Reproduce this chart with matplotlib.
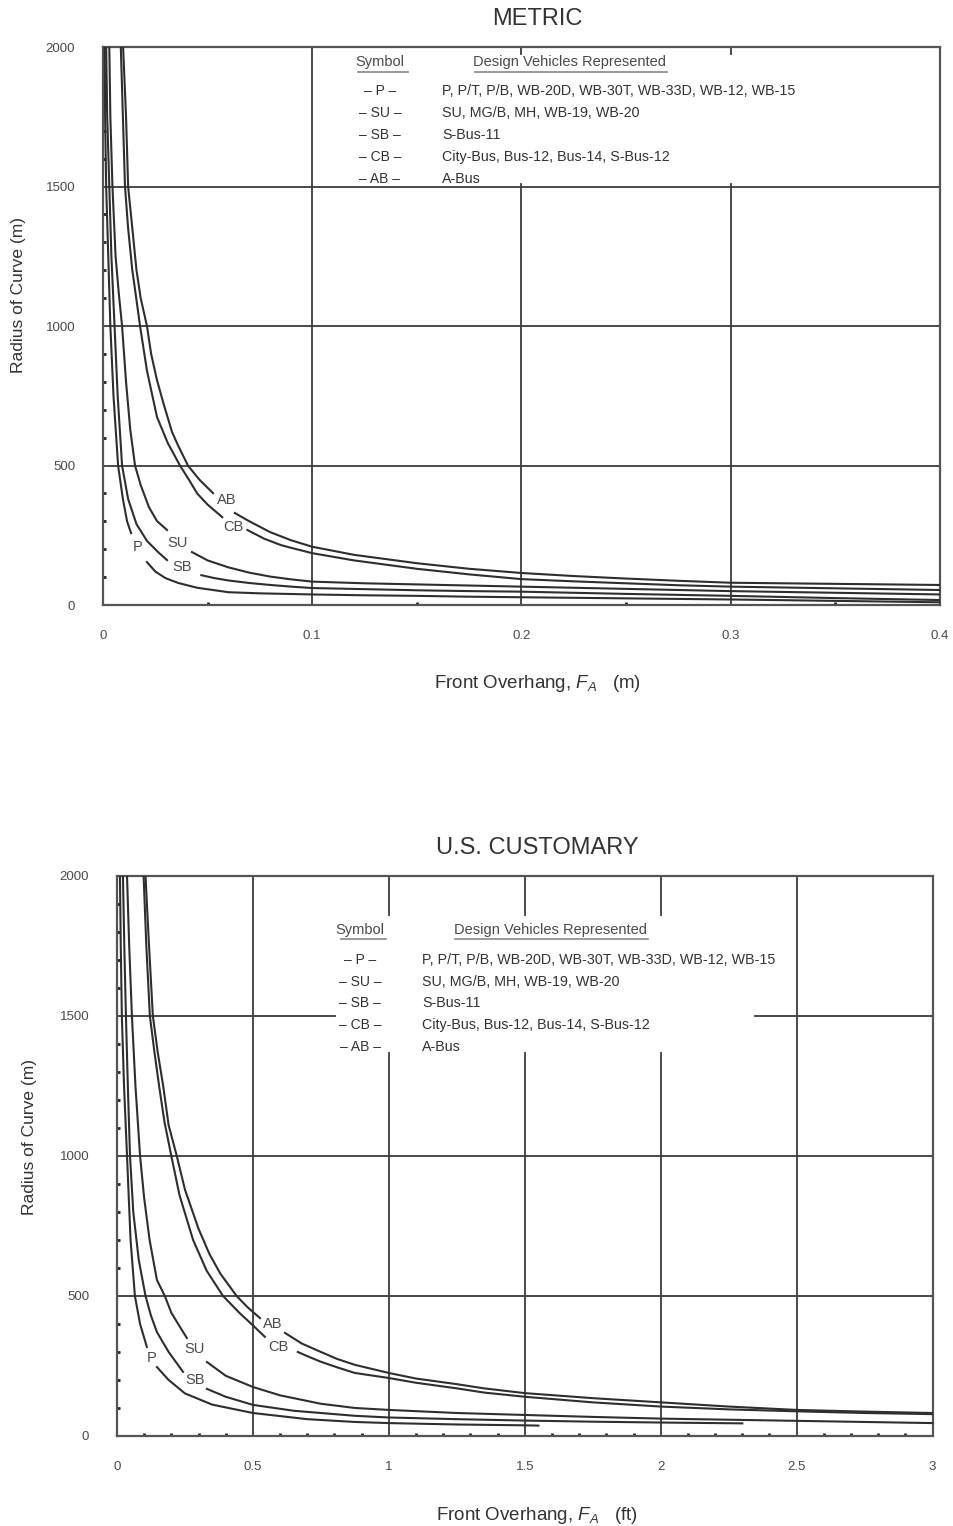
import numpy as np
import matplotlib
matplotlib.use("Agg")
import matplotlib.pyplot as plt
from matplotlib.lines import Line2D

plt.rcParams["font.family"] = ["Liberation Sans", "DejaVu Sans"]
plt.rcParams["mathtext.fontset"] = "custom"
plt.rcParams["mathtext.rm"] = "Liberation Sans"
plt.rcParams["mathtext.it"] = "Liberation Sans:italic"

nan = np.nan

# metric panel: front overhang (m) vs radius of curve (m); nan = gap for label
p_m_f = [0.0008, 0.001, 0.0015, 0.0025, 0.0035, 0.005, 0.0072, 0.0095, 0.0115, 0.0134, nan,
         0.021, 0.025, 0.03, 0.036, 0.045, 0.06, 0.075, 0.1, 0.125, 0.15, 0.175, 0.2, 0.25, 0.3, 0.35, 0.4]
p_m_r = [2000, 1750, 1500, 1250, 1000, 750, 500, 380, 300, 258, nan,
         154, 120, 96, 79, 62, 46, 42, 38, 35, 33, 30, 28, 24, 20, 15, 10]
sb_m_f = [0.0015, 0.002, 0.003, 0.004, 0.0055, 0.007, 0.0091, 0.012, 0.016, 0.021, 0.0263, 0.0306, nan,
          0.047, 0.053, 0.06, 0.07, 0.08, 0.09, 0.1, 0.125, 0.15, 0.175, 0.2, 0.25, 0.3, 0.35, 0.4]
sb_m_r = [2000, 1750, 1500, 1250, 1000, 750, 500, 380, 290, 230, 190, 161, nan,
          107, 97, 88, 79, 72, 66, 61, 57, 53, 50, 48, 40, 33, 25, 18]
su_m_f = [0.003, 0.0035, 0.0045, 0.006, 0.0075, 0.0091, 0.011, 0.013, 0.0153, 0.018, 0.022, 0.0258, 0.0306, nan,
          0.0425, 0.05, 0.06, 0.07, 0.08, 0.09, 0.1, 0.125, 0.15, 0.175, 0.2, 0.25, 0.3, 0.35, 0.4]
su_m_r = [2000, 1750, 1500, 1250, 1120, 1000, 800, 630, 500, 430, 350, 301, 269, nan,
          190, 160, 135, 116, 102, 92, 84, 78, 74, 70, 66, 58, 50, 44, 38]
cb_m_f = [0.0085, 0.0095, 0.0105, 0.012, 0.014, 0.0155, 0.0177, 0.021, 0.0258, 0.031, 0.0368, 0.041, 0.045,
          0.05, 0.057, nan, 0.069, 0.077, 0.085, 0.09, 0.1, 0.12, 0.15, 0.175, 0.2, 0.225, 0.25, 0.275,
          0.3, 0.35, 0.4]
cb_m_r = [2000, 1750, 1500, 1350, 1200, 1120, 1000, 840, 674, 580, 500, 450, 400,
          360, 315, nan, 269, 238, 215, 205, 186, 160, 130, 110, 93, 85, 78, 71,
          66, 60, 54]
ab_m_f = [0.0096, 0.011, 0.012, 0.014, 0.016, 0.018, 0.021, 0.023, 0.0258, 0.029, 0.033, 0.036, 0.0406,
          0.046, 0.0526, nan, 0.063, 0.07, 0.08, 0.09, 0.1, 0.12, 0.15, 0.175, 0.2, 0.225, 0.25, 0.275,
          0.3, 0.35, 0.4]
ab_m_r = [2000, 1750, 1500, 1350, 1200, 1100, 1000, 900, 806, 720, 620, 570, 500,
          450, 401, nan, 330, 300, 261, 232, 209, 180, 150, 130, 115, 104, 95, 87,
          80, 76, 72]

# U.S. customary panel: front overhang (ft)
p_us_f = [0.011, 0.014, 0.018, 0.026, 0.037, 0.05, 0.066, 0.085, 0.110, nan,
          0.147, 0.19, 0.25, 0.35, 0.5, 0.7, 0.875, 1.0, 1.25, 1.5, 1.55]
p_us_r = [2000, 1750, 1500, 1250, 1000, 700, 500, 400, 318, nan,
          246, 200, 152, 112, 82, 60, 50, 46, 41, 38, 37]
sb_us_f = [0.022, 0.027, 0.033, 0.04, 0.048, 0.06, 0.08, 0.105, 0.125, 0.147, 0.19, 0.243, nan,
           0.331, 0.4, 0.5, 0.65, 0.875, 1.0, 1.25, 1.5, 1.75, 2.0, 2.3]
sb_us_r = [2000, 1750, 1500, 1250, 1000, 800, 630, 500, 430, 371, 300, 229, nan,
           168, 140, 111, 90, 72, 66, 60, 55, 51, 48, 45]
su_us_f = [0.037, 0.045, 0.055, 0.068, 0.085, 0.1, 0.12, 0.147, 0.176, 0.2, 0.225, 0.257, nan,
           0.331, 0.4, 0.5, 0.6, 0.75, 0.875, 1.0, 1.25, 1.5, 1.75, 2.0, 2.25, 2.5, 2.75, 3.0]
su_us_r = [2000, 1750, 1500, 1250, 1000, 850, 700, 557, 500, 440, 400, 350, nan,
           264, 215, 175, 145, 115, 100, 93, 82, 75, 68, 62, 58, 54, 50, 46]
cb_us_f = [0.098, 0.108, 0.121, 0.138, 0.155, 0.175, 0.20, 0.23, 0.28, 0.33, 0.39, 0.45, 0.50, 0.544, nan,
           0.665, 0.7, 0.75, 0.81, 0.875, 1.0, 1.1, 1.25, 1.35, 1.5, 1.75, 2.0, 2.25, 2.5, 2.75, 3.0]
cb_us_r = [2000, 1750, 1500, 1370, 1250, 1120, 1000, 860, 700, 590, 500, 440, 395, 354, nan,
           300, 285, 265, 245, 225, 207, 190, 170, 155, 140, 120, 105, 95, 88, 82, 78]
ab_us_f = [0.105, 0.118, 0.132, 0.15, 0.17, 0.19, 0.22, 0.25, 0.30, 0.34, 0.38, 0.41, 0.44, 0.48, 0.526, nan,
           0.618, 0.68, 0.75, 0.81, 0.875, 1.0, 1.1, 1.25, 1.35, 1.5, 1.75, 2.0, 2.25, 2.5, 2.75, 3.0]
ab_us_r = [2000, 1750, 1500, 1370, 1250, 1110, 1000, 880, 740, 650, 580, 540, 500, 460, 421, nan,
           368, 330, 300, 275, 254, 225, 205, 185, 170, 153, 135, 120, 105, 93, 87, 82]

symbols = ["P", "SU", "SB", "CB", "AB"]
vehicles = [
    "P, P/T, P/B, WB-20D, WB-30T, WB-33D, WB-12, WB-15",
    "SU, MG/B, MH, WB-19, WB-20",
    "S-Bus-11",
    "City-Bus, Bus-12, Bus-14, S-Bus-12",
    "A-Bus",
]

TXT = "#4a4a4a"
LINE = "#2e2e2e"
GRID = "#3c3c3c"

fig = plt.figure(figsize=(9.54, 15.26), dpi=100)


def draw_panel(ax, curves, labels, xmax, xmajor, xminor, xticklabels, box, title, xlabel, pos):
    ax.set_xlim(0, xmax)
    ax.set_ylim(0, 2000)
    ax.set_xticks(xmajor)
    ax.set_xticklabels(xticklabels)
    ax.set_xticks(xminor, minor=True)
    ax.set_yticks([0, 500, 1000, 1500, 2000])
    ax.set_yticks(np.arange(0, 2001, 100), minor=True)
    ax.tick_params(which="major", direction="in", length=0, labelsize=9.5, labelcolor=TXT, pad=20)
    ax.tick_params(axis="x", which="major", pad=18)
    ax.tick_params(which="minor", direction="in", length=2, width=2, color="#222")
    for s in ax.spines.values():
        s.set_color("#555")
        s.set_linewidth(1.6)

    # grid lines, cut out behind the symbol table
    bx0, bx1, by0, by1 = box
    for x in xmajor[1:-1]:
        xf = x / xmax
        if bx0 < xf < bx1:
            ax.axvline(x, ymax=by0, color=GRID, lw=1.3, zorder=1)
            ax.axvline(x, ymin=by1, color=GRID, lw=1.3, zorder=1)
        else:
            ax.axvline(x, color=GRID, lw=1.3, zorder=1)
    for y in [500, 1000, 1500]:
        yf = y / 2000
        if by0 < yf < by1:
            ax.axhline(y, xmax=bx0, color=GRID, lw=1.3, zorder=1)
            ax.axhline(y, xmin=bx1, color=GRID, lw=1.3, zorder=1)
        else:
            ax.axhline(y, color=GRID, lw=1.3, zorder=1)

    for f, r in curves:
        ax.plot(f, r, color=LINE, lw=1.5, zorder=3)
    for name, (lx, ly) in labels.items():
        ax.text(lx, ly, name, fontsize=10.5, color=TXT, ha="center", va="center", zorder=4)

    # symbol table
    sx, tx, hy, rows, ul_sym, ul_veh, vcx = pos
    ax.text(sx, hy, "Symbol", transform=ax.transAxes, fontsize=10.5, color=TXT, ha="center", va="center")
    ax.text(vcx, hy, "Design Vehicles Represented", transform=ax.transAxes, fontsize=10.5, color=TXT,
            ha="center", va="center")
    uly = hy - 0.017
    ax.add_line(Line2D(ul_sym, [uly, uly], transform=ax.transAxes, color="#888", lw=1.2))
    ax.add_line(Line2D(ul_veh, [uly, uly], transform=ax.transAxes, color="#888", lw=1.2))
    for sym, veh, ry in zip(symbols, vehicles, rows):
        ax.text(sx, ry, "\u2013 " + sym + " \u2013", transform=ax.transAxes, fontsize=10, color="#333",
                ha="center", va="center")
        ax.text(tx, ry, veh, transform=ax.transAxes, fontsize=10.3, color="#333", ha="left", va="center")

    ax.set_title(title, fontsize=17, color="#333", pad=16)
    ax.set_xlabel(xlabel, fontsize=13.5, color="#333")
    ax.set_ylabel("Radius of Curve (m)", fontsize=12.5, color="#333")


ax1 = fig.add_axes([0.108, 0.6035, 0.877, 0.3657])
draw_panel(
    ax1,
    [(p_m_f, p_m_r), (sb_m_f, sb_m_r), (su_m_f, su_m_r), (cb_m_f, cb_m_r), (ab_m_f, ab_m_r)],
    {"AB": (0.0593, 376), "CB": (0.0621, 280), "SU": (0.0354, 222), "P": (0.0167, 208), "SB": (0.0377, 136)},
    0.4, [0, 0.1, 0.2, 0.3, 0.4], np.arange(0, 0.401, 0.05), ["0", "0.1", "0.2", "0.3", "0.4"],
    (0.289, 0.85, 0.755, 0.988),
    "METRIC", r"Front Overhang, $F_A$   (m)",
    (0.331, 0.405, 0.973, [0.921, 0.882, 0.842, 0.803, 0.763], [0.305, 0.364], [0.444, 0.674], 0.558),
)
ax1.title.set_x(0.519)
ax1.xaxis.set_label_coords(0.519, -0.122)
ax1.yaxis.set_label_coords(-0.092, 0.556)

ax2 = fig.add_axes([0.1226, 0.059, 0.855, 0.367])
draw_panel(
    ax2,
    [(p_us_f, p_us_r), (sb_us_f, sb_us_r), (su_us_f, su_us_r), (cb_us_f, cb_us_r), (ab_us_f, ab_us_r)],
    {"AB": (0.574, 400), "CB": (0.592, 318), "SU": (0.287, 311), "P": (0.129, 279), "SB": (0.287, 200)},
    3, [0, 0.5, 1, 1.5, 2, 2.5, 3], np.arange(0, 3.001, 0.1), ["0", "0.5", "1", "1.5", "2", "2.5", "3"],
    (0.267, 0.782, 0.684, 0.93),
    "U.S. CUSTOMARY", r"Front Overhang, $F_A$   (ft)",
    (0.298, 0.374, 0.904, [0.85, 0.811, 0.773, 0.734, 0.695], [0.275, 0.330], [0.414, 0.651], 0.531),
)
ax2.title.set_x(0.515)
ax2.xaxis.set_label_coords(0.515, -0.124)
ax2.yaxis.set_label_coords(-0.098, 0.534)

fig.savefig("out.png", dpi=100)
